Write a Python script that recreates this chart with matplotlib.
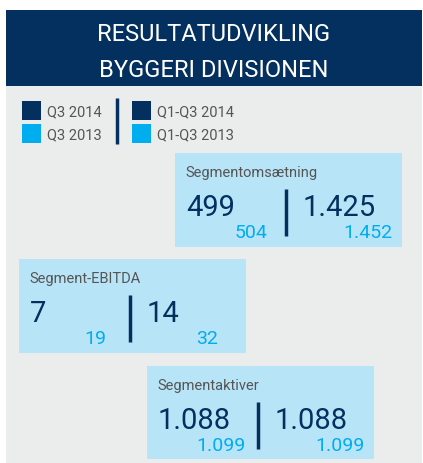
import matplotlib.pyplot as plt
from matplotlib.patches import Rectangle

# data
title_lines = ["RESULTATUDVIKLING", "BYGGERI DIVISIONEN"]
legend_left = ["Q3 2014", "Q3 2013"]
legend_right = ["Q1-Q3 2014", "Q1-Q3 2013"]
segments = ["Segmentomsætning", "Segment-EBITDA", "Segmentaktiver"]
q3_2014 = ["499", "7", "1.088"]
q3_2013 = ["504", "19", "1.099"]
ytd_2014 = ["1.425", "14", "1.088"]
ytd_2013 = ["1.452", "32", "1.099"]

navy = "#03305e"
cyan = "#00adef"
lightblue = "#b8e4f8"
grey = "#ebeded"
textgrey = "#555555"

plt.rcParams['font.family'] = ['Roboto', 'DejaVu Sans']

fig = plt.figure(figsize=(4.23, 4.63), dpi=100)
ax = fig.add_axes([0, 0, 1, 1])
ax.set_xlim(0, 423)
ax.set_ylim(463, 0)
ax.axis("off")

# background panels
ax.add_patch(Rectangle((6, 86), 416, 377, color=grey, lw=0))
ax.add_patch(Rectangle((6, 10), 416, 76, color=navy, lw=0))
ax.text(214, 41, title_lines[0], color="white", fontsize=17, ha="center", va="baseline")
ax.text(214, 77, title_lines[1], color="white", fontsize=17, ha="center", va="baseline")

# legend
for i, (lab_l, lab_r) in enumerate(zip(legend_left, legend_right)):
    c = navy if i == 0 else cyan
    y = 101 + i * 23
    ax.add_patch(Rectangle((22, y), 19, 19, color=c, lw=0))
    ax.add_patch(Rectangle((132, y), 19, 19, color=c, lw=0))
    ax.text(47, y + 15, lab_l, color=textgrey, fontsize=10.5, va="baseline")
    ax.text(157, y + 15, lab_r, color=textgrey, fontsize=10.5, va="baseline")
ax.plot([117, 117], [98, 144], color=navy, lw=2.5, solid_capstyle="butt")

# boxes: x, y, w, h and right edges of the small numbers
boxes = [(175, 153, 227, 94), (19, 259, 227, 94), (147, 366, 227, 93)]
small_right = [(92, 217), (87, 199), (99, 218)]
for i, (bx, by, bw, bh) in enumerate(boxes):
    ax.add_patch(Rectangle((bx, by), bw, bh, color=lightblue, lw=0))
    ax.text(bx + 10, by + 24, segments[i], color=textgrey, fontsize=10.5, va="baseline")
    ax.text(bx + 11, by + 63, q3_2014[i], color=navy, fontsize=21, va="baseline")
    ax.text(bx + small_right[i][0], by + 85, q3_2013[i], color=cyan, fontsize=14,
            ha="right", va="baseline")
    ax.plot([bx + 111, bx + 111], [by + 36, by + 83], color=navy, lw=2.5, solid_capstyle="butt")
    ax.text(bx + 128, by + 63, ytd_2014[i], color=navy, fontsize=21, va="baseline")
    ax.text(bx + small_right[i][1], by + 85, ytd_2013[i], color=cyan, fontsize=14,
            ha="right", va="baseline")

fig.savefig("out.png", dpi=100, facecolor="white")
